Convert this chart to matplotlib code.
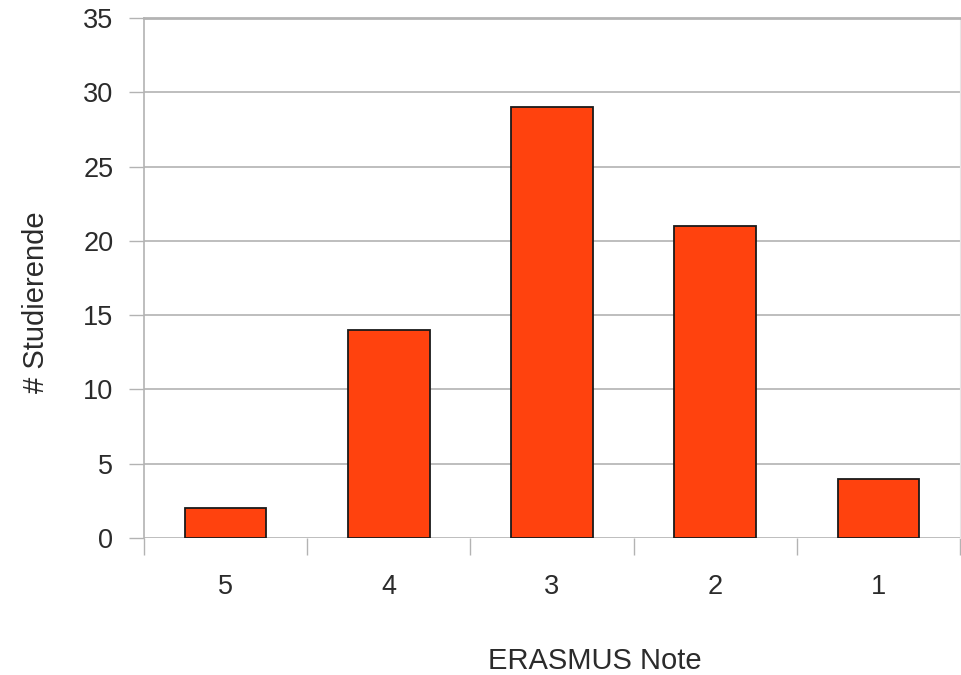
import matplotlib.pyplot as plt
import numpy as np

plt.rcParams['font.family'] = ['Liberation Sans', 'DejaVu Sans']

# data
noten = ['5', '4', '3', '2', '1']
studierende = [2, 14, 29, 21, 4]
yticks = [0, 5, 10, 15, 20, 25, 30, 35]

grid_col = '#b3b3b3'
bar_col = '#ff420e'

fig = plt.figure(figsize=(9.61, 6.75), dpi=100)
ax = fig.add_axes([144 / 961, 137 / 675, 816 / 961, 520 / 675])

x = np.arange(len(noten))
ax.bar(x, studierende, width=0.5, color=bar_col, edgecolor='#1a1a1a',
       linewidth=1.3, zorder=3)

ax.set_xlim(-0.5, len(noten) - 0.5)
ax.set_ylim(0, 35)
ax.set_yticks(yticks)
ax.yaxis.grid(True, color=grid_col, linewidth=1.2, zorder=0)

# labels centered in categories, separator ticks between them
ax.set_xticks(x)
ax.set_xticklabels(noten)
ax.set_xticks(np.arange(len(noten) + 1) - 0.5, minor=True)
ax.tick_params(axis='x', which='major', length=0, pad=26, labelsize=19.5,
               labelcolor='#2b2b2b')
ax.tick_params(axis='x', which='minor', length=12, width=1, color=grid_col,
               direction='out')
ax.tick_params(axis='y', length=11, width=1, color=grid_col, pad=11,
               labelsize=19.5, labelcolor='#2b2b2b')

for side in ['left', 'right', 'top']:
    ax.spines[side].set_color(grid_col)
ax.spines['top'].set_linewidth(2)
ax.spines['left'].set_linewidth(1.2)
ax.spines['right'].set_color('#e6e6e6')
ax.spines['bottom'].set_visible(False)

ax.set_xlabel('ERASMUS Note', fontsize=21, color='#2b2b2b')
ax.set_ylabel('# Studierende', fontsize=21, color='#2b2b2b')
ax.xaxis.set_label_coords(0.553, -0.21)
ax.yaxis.set_label_coords(-0.115, 0.454)

fig.savefig('out.png', dpi=100)
